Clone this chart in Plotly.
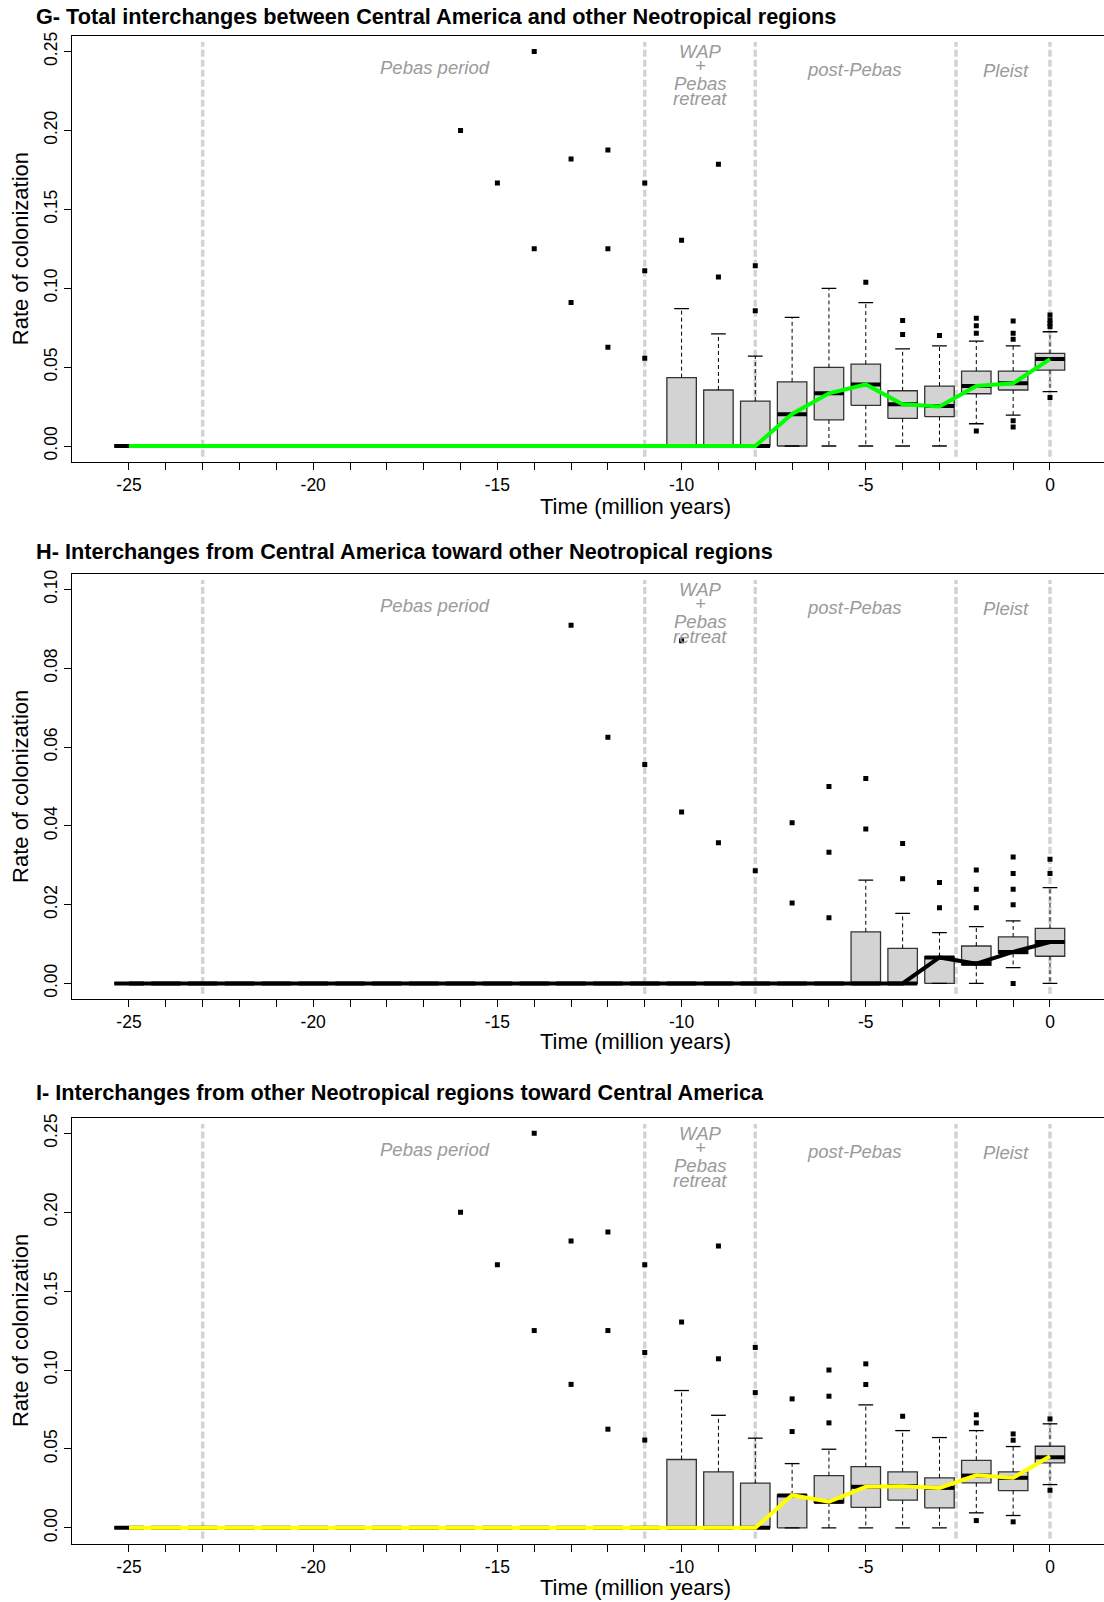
import plotly.graph_objects as go

# ---------------- data ----------------
positions = [-25, -24, -23, -22, -21, -20, -19, -18, -17, -16, -15, -14, -13,
             -12, -11, -10, -9, -8, -7, -6, -5, -4, -3, -2, -1, 0]
x_tickvals = positions
x_ticktext = ["-25", "", "", "", "", "-20", "", "", "", "", "-15", "", "", "", "",
              "-10", "", "", "", "", "-5", "", "", "", "", "0"]
period_bounds = [-23, -11, -8, -2.55, 0]

# Panel G - total interchanges
g_q1 = [0, 0, 0, 0, 0, 0, 0, 0, 0, 0, 0, 0, 0, 0, 0,
        0, 0, 0, 0, 0.0165, 0.0258, 0.0175, 0.0186, 0.0331, 0.0355, 0.0481]
g_med = [0, 0, 0, 0, 0, 0, 0, 0, 0, 0, 0, 0, 0, 0, 0,
         0, 0, 0, 0.0201, 0.0334, 0.0390, 0.0264, 0.0253, 0.0380, 0.0397, 0.0551]
g_q3 = [0, 0, 0, 0, 0, 0, 0, 0, 0, 0, 0, 0, 0, 0, 0,
        0.0433, 0.0355, 0.0285, 0.0407, 0.0498, 0.0519, 0.0350, 0.0380, 0.0475, 0.0475, 0.0587]
g_lo = [0, 0, 0, 0, 0, 0, 0, 0, 0, 0, 0, 0, 0, 0, 0,
        0, 0, 0, 0, 0, 0, 0, 0, 0.0141, 0.0196, 0.0344]
g_hi = [0, 0, 0, 0, 0, 0, 0, 0, 0, 0, 0, 0, 0, 0, 0,
        0.0870, 0.0711, 0.0570, 0.0815, 0.0999, 0.0908, 0.0616, 0.0635, 0.0665, 0.0635, 0.0724]
g_out_x = [-16, -15, -14, -14, -13, -13, -12, -12, -12, -11, -11, -11, -10, -9, -9, -8, -8,
           -5, -4, -4, -3, -2, -2, -2, -2, -1, -1, -1, -1, -1, 0, 0, 0, 0, 0]
g_out_y = [0.2000, 0.1667, 0.2500, 0.1250, 0.1818, 0.0909, 0.1875, 0.1250, 0.0625,
           0.1667, 0.1111, 0.0556, 0.1304, 0.1786, 0.1071, 0.1143, 0.0857,
           0.1037, 0.0796, 0.0707, 0.0701, 0.0809, 0.0762, 0.0714, 0.0095,
           0.0792, 0.0714, 0.0676, 0.0160, 0.0120, 0.0830, 0.0798, 0.0777, 0.0756, 0.0308]
g_trend = [0, 0, 0, 0, 0, 0, 0, 0, 0, 0, 0, 0, 0, 0, 0, 0, 0, 0,
           0.0203, 0.0334, 0.0390, 0.0264, 0.0250, 0.0380, 0.0397, 0.0551]

# Panel H - from Central America
h_q1 = [0, 0, 0, 0, 0, 0, 0, 0, 0, 0, 0, 0, 0, 0, 0,
        0, 0, 0, 0, 0, 0, 0, 0, 0.0046, 0.0076, 0.0069]
h_med = [0, 0, 0, 0, 0, 0, 0, 0, 0, 0, 0, 0, 0, 0, 0,
         0, 0, 0, 0, 0, 0, 0, 0.0066, 0.0051, 0.0080, 0.0105]
h_q3 = [0, 0, 0, 0, 0, 0, 0, 0, 0, 0, 0, 0, 0, 0, 0,
        0, 0, 0, 0, 0, 0.0131, 0.0089, 0.0068, 0.0095, 0.0118, 0.0140]
h_lo = [0, 0, 0, 0, 0, 0, 0, 0, 0, 0, 0, 0, 0, 0, 0,
        0, 0, 0, 0, 0, 0, 0, 0, 0, 0.0040, 0]
h_hi = [0, 0, 0, 0, 0, 0, 0, 0, 0, 0, 0, 0, 0, 0, 0,
        0, 0, 0, 0, 0, 0.0262, 0.0178, 0.0129, 0.0144, 0.0159, 0.0243]
h_out_x = [-13, -12, -11, -10, -10, -9, -8, -7, -7, -6, -6, -6, -5, -5, -4, -4, -3, -3,
           -2, -2, -2, -1, -1, -1, -1, -1, 0, 0]
h_out_y = [0.0909, 0.0625, 0.0556, 0.0870, 0.0435, 0.0357, 0.0286, 0.0408, 0.0204,
           0.0500, 0.0333, 0.0167, 0.0520, 0.0392, 0.0355, 0.0266, 0.0256, 0.0192,
           0.0288, 0.0239, 0.0192, 0.0321, 0.0279, 0.0239, 0.0200, 0.0,
           0.0315, 0.0279]
h_trend = [0, 0, 0, 0, 0, 0, 0, 0, 0, 0, 0, 0, 0, 0, 0, 0, 0, 0, 0, 0, 0, 0,
           0.0066, 0.0050, 0.0080, 0.0105]

# Panel I - toward Central America
i_q1 = [0, 0, 0, 0, 0, 0, 0, 0, 0, 0, 0, 0, 0, 0, 0,
        0, 0, 0, 0, 0.0158, 0.0129, 0.0175, 0.0127, 0.0285, 0.0236, 0.0412]
i_med = [0, 0, 0, 0, 0, 0, 0, 0, 0, 0, 0, 0, 0, 0, 0,
         0, 0, 0, 0.0205, 0.0165, 0.0260, 0.0264, 0.0253, 0.0331, 0.0317, 0.0447]
i_q3 = [0, 0, 0, 0, 0, 0, 0, 0, 0, 0, 0, 0, 0, 0, 0,
        0.0433, 0.0355, 0.0283, 0.0209, 0.0331, 0.0388, 0.0355, 0.0317, 0.0428, 0.0355, 0.0517]
i_lo = [0, 0, 0, 0, 0, 0, 0, 0, 0, 0, 0, 0, 0, 0, 0,
        0, 0, 0, 0, 0, 0, 0, 0, 0.0095, 0.0078, 0.0274]
i_hi = [0, 0, 0, 0, 0, 0, 0, 0, 0, 0, 0, 0, 0, 0, 0,
        0.0870, 0.0713, 0.0568, 0.0407, 0.0498, 0.0779, 0.0616, 0.0572, 0.0616, 0.0515, 0.0659]
i_out_x = [-16, -15, -14, -14, -13, -13, -12, -12, -12, -11, -11, -11, -10, -9, -9, -8, -8,
           -7, -7, -6, -6, -6, -5, -5, -4, -2, -2, -2, -1, -1, -1, 0, 0]
i_out_y = [0.2000, 0.1667, 0.2500, 0.1250, 0.1818, 0.0909, 0.1875, 0.1250, 0.0625,
           0.1667, 0.1111, 0.0556, 0.1304, 0.1786, 0.1071, 0.1143, 0.0857,
           0.0817, 0.0610, 0.1000, 0.0834, 0.0665, 0.1039, 0.0908, 0.0707,
           0.0716, 0.0665, 0.0046, 0.0595, 0.0555, 0.0038, 0.0690, 0.0238]
i_trend = [0, 0, 0, 0, 0, 0, 0, 0, 0, 0, 0, 0, 0, 0, 0, 0, 0, 0,
           0.0207, 0.0165, 0.0260, 0.0264, 0.0253, 0.0333, 0.0317, 0.0453]

titles = ["G- Total interchanges between Central America and other Neotropical regions",
          "H- Interchanges from Central America toward other Neotropical regions",
          "I- Interchanges from other Neotropical regions toward Central America"]
y_tickvals_G = [0, 0.05, 0.10, 0.15, 0.20, 0.25]
y_tickvals_H = [0, 0.02, 0.04, 0.06, 0.08, 0.10]
y_tickvals_I = [0, 0.05, 0.10, 0.15, 0.20, 0.25]
trend_colors = ["#00ff00", "#000000", "#ffff00"]

# ---------------- styling ----------------
FONT = "Liberation Sans, Arial, Helvetica, sans-serif"
BOX_HALF = 0.4
CAP_HALF = 0.2
W, H = 1104, 1602
x_domain = [71.7 / W, 1.0]
x_range = [-26.555, 1.466]
y_domains = [[0.71174, 0.97772], [0.37628, 0.64189], [0.03645, 0.30243]]
y_ranges = [[-0.01, 0.26], [-0.004, 0.104], [-0.01, 0.26]]

fig = go.Figure()


def add_panel(k, q1, med, q3, lo, hi, ox, oy, trend, color):
    xa = "x" if k == 1 else f"x{k}"
    ya = "y" if k == 1 else f"y{k}"
    bx, by, wx, wy, cx, cy, mx, my = [], [], [], [], [], [], [], []
    for p, a, m, b, l, h in zip(positions, q1, med, q3, lo, hi):
        bx += [p - BOX_HALF, p + BOX_HALF, p + BOX_HALF, p - BOX_HALF, p - BOX_HALF, None]
        by += [a, a, b, b, a, None]
        wx += [p, p, None, p, p, None]
        wy += [b, h, None, a, l, None]
        cx += [p - CAP_HALF, p + CAP_HALF, None, p - CAP_HALF, p + CAP_HALF, None]
        cy += [h, h, None, l, l, None]
        mx += [p - BOX_HALF, p + BOX_HALF, None]
        my += [m, m, None]
    common = dict(xaxis=xa, yaxis=ya, showlegend=False, hoverinfo="skip")
    fig.add_trace(go.Scatter(x=bx, y=by, mode="lines", fill="toself", fillcolor="#d3d3d3",
                             line=dict(color="#333333", width=1.3), **common))
    fig.add_trace(go.Scatter(x=wx, y=wy, mode="lines",
                             line=dict(color="black", width=1, dash="4px,3px"), **common))
    fig.add_trace(go.Scatter(x=cx, y=cy, mode="lines",
                             line=dict(color="black", width=1.3), **common))
    fig.add_trace(go.Scatter(x=mx, y=my, mode="lines",
                             line=dict(color="black", width=4), **common))
    fig.add_trace(go.Scatter(x=ox, y=oy, mode="markers",
                             marker=dict(color="black", size=5, symbol="square"), **common))
    fig.add_trace(go.Scatter(x=positions, y=trend, mode="lines",
                             line=dict(color=color, width=4), **common))


add_panel(1, g_q1, g_med, g_q3, g_lo, g_hi, g_out_x, g_out_y, g_trend, trend_colors[0])
add_panel(2, h_q1, h_med, h_q3, h_lo, h_hi, h_out_x, h_out_y, h_trend, trend_colors[1])
add_panel(3, i_q1, i_med, i_q3, i_lo, i_hi, i_out_x, i_out_y, i_trend, trend_colors[2])

layout = dict(width=W, height=H, margin=dict(l=0, r=0, t=0, b=0),
              paper_bgcolor="white", plot_bgcolor="white",
              font=dict(family=FONT, color="black"), showlegend=False)

ytick_sets = [y_tickvals_G, y_tickvals_H, y_tickvals_I]
shapes, annotations = [], []
for k in range(1, 4):
    xk = "xaxis" if k == 1 else f"xaxis{k}"
    yk = "yaxis" if k == 1 else f"yaxis{k}"
    xa = "x" if k == 1 else f"x{k}"
    ya = "y" if k == 1 else f"y{k}"
    layout[xk] = dict(domain=x_domain, range=x_range, anchor=ya, tickmode="array",
                      tickvals=x_tickvals, ticktext=x_ticktext, ticks="outside", ticklen=7,
                      tickwidth=1, tickcolor="black", showline=True, linecolor="black",
                      linewidth=1.2, mirror=True, showgrid=False, zeroline=False,
                      tickfont=dict(size=17.5, family=FONT), automargin=False)
    layout[yk] = dict(domain=y_domains[k - 1], range=y_ranges[k - 1], anchor=xa,
                      tickmode="array", tickvals=ytick_sets[k - 1],
                      ticktext=[f"{v:.2f}" for v in ytick_sets[k - 1]],
                      ticks="outside", ticklen=7, tickwidth=1, tickcolor="black",
                      showline=True, linecolor="black", linewidth=1.2, mirror=False,
                      showgrid=False, zeroline=False, tickangle=-90,
                      tickfont=dict(size=17.5, family=FONT), automargin=False)
    for b in period_bounds:
        shapes.append(dict(type="line", xref=xa, yref=f"{ya} domain", x0=b, x1=b,
                           y0=0.012, y1=0.985, layer="below",
                           line=dict(color="#d3d3d3", width=3.5, dash="7px,3px")))
    gray = dict(color="#9a9a9a", size=18.5, family=FONT)
    labels = [("<i>Pebas period</i>", -16.7, 0.925),
              ("<i>WAP</i>", -9.5, 0.9625),
              ("<i>+</i>", -9.5, 0.9295),
              ("<i>Pebas</i>", -9.5, 0.888),
              ("<i>retreat</i>", -9.5, 0.853),
              ("<i>post-Pebas</i>", -5.3, 0.921),
              ("<i>Pleist</i>", -1.2, 0.918)]
    for txt, xv, yv in labels:
        annotations.append(dict(text=txt, x=xv, y=yv, xref=xa, yref=f"{ya} domain",
                                showarrow=False, font=gray, xanchor="center", yanchor="middle"))

title_y = [0.98983, 0.65562, 0.31785]
time_y = [0.68383, 0.34975, 0.00936]
for k in range(3):
    annotations.append(dict(text=f"<b>{titles[k]}</b>", x=34.0 / W, y=title_y[k],
                            xref="paper", yref="paper", showarrow=False, xanchor="left",
                            yanchor="middle", font=dict(size=21.7, family=FONT, color="black")))
    annotations.append(dict(text="Time (million years)", x=635.5 / W, y=time_y[k],
                            xref="paper", yref="paper", showarrow=False, xanchor="center",
                            yanchor="middle", font=dict(size=22, family=FONT, color="black")))
    annotations.append(dict(text="Rate of colonization", x=20.5 / W,
                            y=sum(y_domains[k]) / 2, xref="paper", yref="paper",
                            showarrow=False, xanchor="center", yanchor="middle", textangle=-90,
                            font=dict(size=22, family=FONT, color="black")))

layout["shapes"] = shapes
layout["annotations"] = annotations
fig.update_layout(**layout)
fig.write_html("out.html")
